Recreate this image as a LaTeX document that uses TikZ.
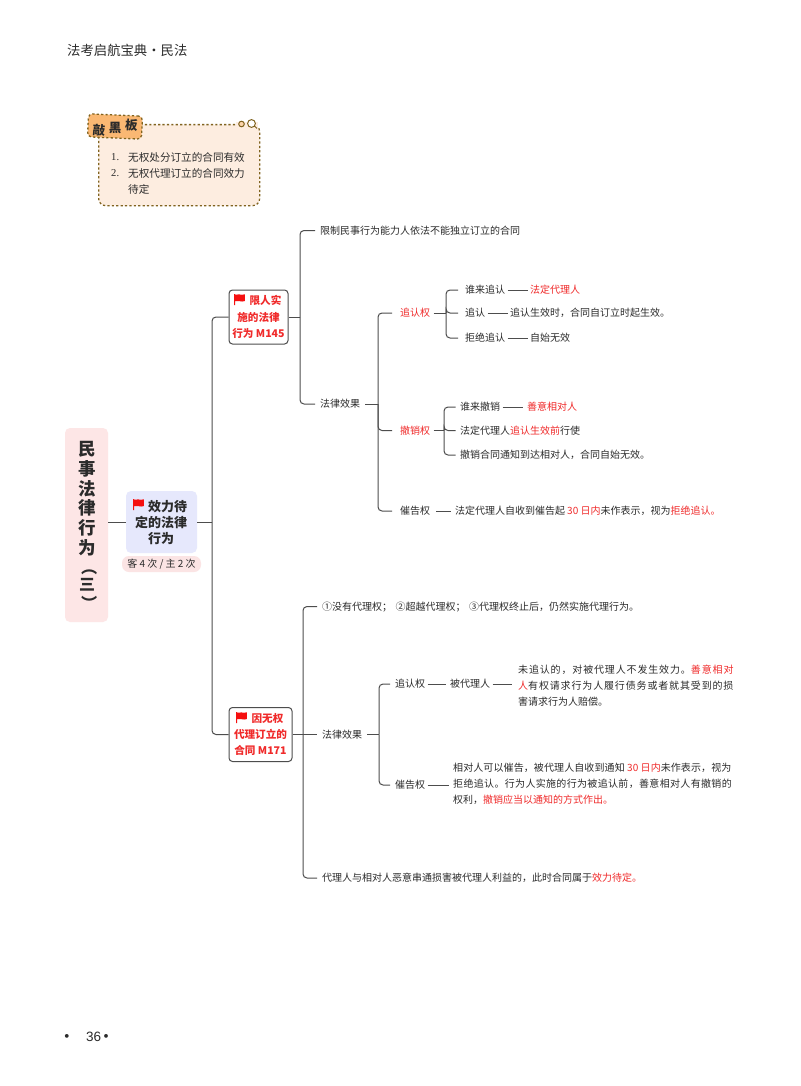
\documentclass[tikz,border=0pt]{standalone}
\usepackage{fontspec}
\setmainfont{Noto Sans CJK SC}
\newfontfamily\hdfont{Liberation Sans}
\newfontfamily\numfont{Liberation Serif}
\definecolor{inkc}{HTML}{2B2B2B}
\definecolor{linec}{HTML}{4D4D4D}
\definecolor{redc}{HTML}{F02A2A}
\definecolor{flagc}{HTML}{F50F0F}
\definecolor{rootc}{HTML}{FDE6E6}
\definecolor{effc}{HTML}{E6E8FC}
\definecolor{tagc}{HTML}{FBE4E4}
\definecolor{boardc}{HTML}{FDEDE0}
\definecolor{orangec}{HTML}{FAB873}
\definecolor{dashc}{HTML}{80631F}
\newcommand{\rd}[1]{\textcolor{redc}{#1}}
\newcommand{\sz}[1]{\fontsize{#1}{#1}\selectfont}
\newcommand{\szz}[2]{\fontsize{#1}{#2}\selectfont}
\newcommand{\lsp}[2]{{\addfontfeature{LetterSpace=#1}#2}}
\newcommand{\flagat}[2]{%
  \fill[flagc,shift={(#1,#2)},scale=.86] (0,0) -- (1.4,0) -- (1.4,.6) .. controls (5,-1) and (8,2.2) .. (12.6,.3)
  -- (12.6,8.2) .. controls (8,10) and (5,6.8) .. (1.4,8.4) -- (1.4,13) -- (0,13) -- cycle;}
\tikzset{
  every node/.style={inner sep=0pt,text=inkc},
  txt/.style={anchor=west,xshift=-2.5pt,font=\sz{10},text height=8.8pt,text depth=1.2pt,outer sep=2.5pt},
  conn/.style={draw=linec,line width=1pt},
  elbow/.style={conn,rounded corners=4pt,shorten >=#1},
  elbow/.default=2.5pt,
  redbox/.style={draw=linec,line width=1pt,fill=white,rounded corners=3.5pt,minimum height=54pt,align=center,font=\bfseries\szz{10.6}{16.2},text=redc},
  dashbox/.style={draw=dashc,line width=1.3pt,dash pattern=on 2.2pt off 2.2pt},
  plist/.style={anchor=west,font=\sz{10.6},align=left},
  rootch/.style={font=\bfseries\sz{17.5}},
  tagch/.style={font=\bfseries\sz{12.5}},
}
\begin{document}
\begin{tikzpicture}[x=1pt,y=-1pt]
\useasboundingbox (0,0) rectangle (800,1086);
\fill[white] (0,0) rectangle (800,1086);
% header and footer
\node[anchor=west,font=\sz{13.35}] (hd) at (67,50.5) {法考启航宝典·民法};
\node[anchor=west,font=\hdfont\fontsize{13.5}{13.5}\selectfont] (pg) at (60,1037) {{\normalfont\bfseries ·}\hspace{12.5pt}36\hspace{-1.75pt}{\normalfont\bfseries ·}};
% blackboard
\node[dashbox,fill=boardc,rounded corners=7pt,minimum width=161pt,minimum height=81pt,anchor=north west] (board) at (98,124) {};
\node[plist,font=\numfont\sz{10.6}] (l1n) at (111,157.5) {1.};
\node[plist] (l1) at (128,157.5) {无权处分订立的合同有效};
\node[plist,font=\numfont\sz{10.6}] (l2n) at (111,173.5) {2.};
\node[plist] (l2) at (128,173.5) {无权代理订立的合同效力};
\node[plist] (l3) at (128,189.5) {待定};
\node[dashbox,fill=orangec,rounded corners=4pt,minimum width=54pt,minimum height=23pt,rotate=-2.5] (tag) at (115,126.5) {};
\node[tagch,rotate=-4] (q1) at (99,130.5) {敲};
\node[tagch] (q2) at (115,127.5) {黑};
\node[tagch,rotate=-4] (q3) at (131.5,125) {板};
\fill[boardc] (236,120) rectangle (258,128);
\fill[white] (236,120) rectangle (258,122.4);
\draw[dashc,line width=1pt,fill=orangec!60] (241.5,124) circle (2.8);
\draw[dashc,line width=1pt,fill=white] (251.5,123.5) circle (3.9);
\draw[dashc,line width=1pt] (254.4,126) -- (257,128.4);
% root
\node[fill=rootc,rounded corners=5pt,minimum width=43pt,minimum height=194pt] (root) at (86.5,525) {};
\node[rootch] (r1) at (87,449.5) {民};
\node[rootch] (r2) at (87,469) {事};
\node[rootch] (r3) at (87,488.5) {法};
\node[rootch] (r4) at (87,507.5) {律};
\node[rootch] (r5) at (87,528) {行};
\node[rootch] (r6) at (87,548) {为};
\node[rootch,font=\bfseries\sz{16},text height=12pt,text depth=4pt,text width=16pt,align=center,rotate=-90] (r7) at (87,567) {（};
\node[rootch,font=\bfseries\sz{16}] (r8) at (87,585) {三};
\node[rootch,font=\bfseries\sz{16},text height=12pt,text depth=4pt,text width=16pt,align=center,rotate=-90] (r9) at (87,603) {）};
% effect
\node[fill=effc,rounded corners=5pt,minimum width=71pt,minimum height=62pt] (eff) at (161.5,522) {};
\node[font=\bfseries\szz{13}{16},align=center] (efft) at (161.2,522.5) {\hspace*{13pt}效力待\\定的法律\\行为};
\flagat{133}{499}
\node[fill=tagc,rounded corners=7pt,minimum width=79pt,minimum height=16pt,font=\sz{10},text=inkc] (freq) at (161.5,564) {客 4 次 / 主 2 次};
% main trunk
\draw[conn] (root.east |- eff.west) -- (eff.west);
\coordinate (j1) at (212,522);
\node[redbox,minimum width=59pt] (a) at (258.5,317) {\hspace*{14pt}限人实\\施的法律\\行为 M145};
\flagat{234}{294}
\node[redbox,minimum width=63pt] (b) at (260.5,734.5) {\hspace*{14pt}因无权\\代理订立的\\合同 M171};
\flagat{236}{712}
\draw[conn] (eff.east) -- (j1);
\draw[elbow=0pt] (j1) |- (a.west);
\draw[elbow=0pt] (j1) |- (b.west);
% upper branch
\coordinate (j2) at (300,317);
\node[txt] (a1) at (320,230.5) {限制民事行为能力人依法不能独立订立的合同};
\node[txt] (a2) at (320,404) {法律效果};
\draw[conn] (a.east) -- (j2);
\draw[elbow] (j2) |- (a1.west);
\draw[elbow] (j2) |- (a2.west);
\coordinate (j3) at (378,404);
\draw[conn,shorten <=2.5pt] (a2.east) -- (j3);
\node[txt,text=redc] (z) at (400,313) {追认权};
\node[txt,text=redc] (c) at (400,430.5) {撤销权};
\node[txt] (g) at (400,511) {催告权};
\draw[elbow=5.5pt] (j3) |- (z.west);
\draw[elbow=5.5pt] (j3) |- (c.west);
\draw[elbow=5.5pt] (j3) |- (g.west);
\coordinate (j4) at (446,313);
\draw[conn,shorten <=1pt] (z.east) -- (j4);
\node[txt] (z1) at (465,290) {谁来追认};
\node[txt] (z2) at (465,313) {追认};
\node[txt] (z3) at (465,338) {拒绝追认};
\draw[elbow=4.5pt] (j4) |- (z1.west);
\draw[elbow=4.5pt] (j4) |- (z2.west);
\draw[elbow=4.5pt] (j4) |- (z3.west);
\node[txt,text=redc] (z1a) at (530,290) {法定代理人};
\node[txt] (z2a) at (510,313) {追认生效时，合同自订立时起生效。};
\node[txt] (z3a) at (530,338) {自始无效};
\draw[conn] (z1.east) -- (z1a.west);
\draw[conn] (z2.east) -- (z2a.west);
\draw[conn] (z3.east) -- (z3a.west);
\coordinate (j5) at (444,430.5);
\draw[conn,shorten <=1pt] (c.east) -- (j5);
\node[txt] (c1) at (460,407) {谁来撤销};
\node[txt] (c2) at (460,430.5) {法定代理人\rd{追认生效前}行使};
\node[txt] (c3) at (460,455) {撤销合同通知到达相对人，合同自始无效。};
\draw[elbow=2pt] (j5) |- (c1.west);
\draw[elbow=2pt] (j5) |- (c2.west);
\draw[elbow=2pt] (j5) |- (c3.west);
\node[txt,text=redc] (c1a) at (527,407) {善意相对人};
\draw[conn,shorten >=2pt] (c1.east) -- (c1a.west);
\node[txt] (g1) at (455,511) {法定代理人自收到催告起 \rd{30 日内}未作表示，视为\rd{拒绝追认。}};
\draw[conn,shorten <=3.5pt,shorten >=1.5pt] (g.east) -- (g1.west);
% lower branch
\coordinate (j6) at (303,734.5);
\node[txt] (b1) at (322,606.5) {①没有代理权；\hspace{3.5pt}②超越代理权；\hspace{3.5pt}③代理权终止后，仍然实施代理行为。};
\node[txt] (b2) at (322,734.5) {法律效果};
\node[txt] (b3) at (322,878) {代理人与相对人恶意串通损害被代理人利益的，此时合同属于\rd{效力待定。}};
\draw[conn] (b.east) -- (j6);
\draw[elbow] (j6) |- (b1.west);
\draw[elbow] (j6) -- (b2.west);
\draw[elbow] (j6) |- (b3.west);
\coordinate (j7) at (379,734.5);
\draw[conn,shorten <=2.5pt] (b2.east) -- (j7);
\node[txt] (h) at (395,684) {追认权};
\node[txt] (i) at (395,785) {催告权};
\draw[elbow] (j7) |- (h.west);
\draw[elbow] (j7) |- (i.west);
\node[txt] (h1) at (450,684) {被代理人};
\draw[conn,shorten >=2pt] (h.east) -- (h1.west);
\node[plist,font=\szz{10}{16}] (h2) at (518,685.7) {\lsp{8.5}{未追认的，对被代理人不发生效力。\rd{善意相对}}\\\lsp{8.5}{\rd{人}有权请求行为人履行债务或者就其受到的损}\\害请求行为人赔偿。};
\draw[conn,shorten >=6pt] (h1.east) -- (h2.west |- h1.east);
\node[plist,font=\szz{10}{16}] (i2) at (453,783.7) {\lsp{1}{相对人可以催告，被代理人自收到通知 \rd{30 日内}未作表示，视为}\\\lsp{3.3}{拒绝追认。行为人实施的行为被追认前，善意相对人有撤销的}\\权利，\rd{撤销应当以通知的方式作出。}};
\draw[conn,shorten >=4pt] (i.east) -- (i2.west |- i.east);
\end{tikzpicture}
\end{document}
